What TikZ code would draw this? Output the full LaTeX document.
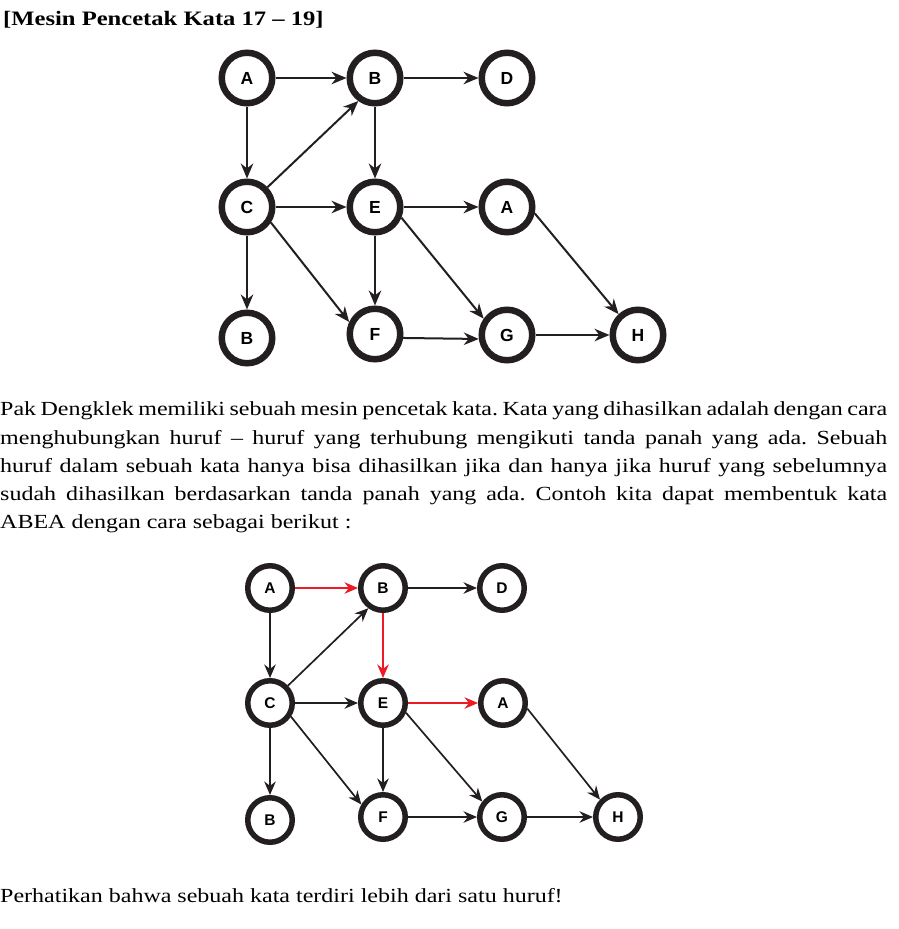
\documentclass[tikz,border=0pt]{standalone}
\usepackage{fontspec}
\setmainfont{Liberation Serif}[FakeStretch=1.2]
\newfontfamily\letterfont{Liberation Sans}
\usetikzlibrary{arrows.meta}
\definecolor{ink}{HTML}{231F20}
\definecolor{pathred}{HTML}{ED1C24}
\tikzset{
  every letter/.style={
    circle,
    draw=ink,
    line width=6.5pt,
    minimum size=50.5pt,
    inner sep=0pt,
    font=\letterfont\bfseries\fontsize{17.5}{17.5}\selectfont
  },
  small letter/.style={
    every letter,
    line width=5.5pt,
    minimum size=44.5pt,
    font=\letterfont\bfseries\fontsize{15.5}{15.5}\selectfont
  },
}
\tikzstyle{arrow} = [draw=ink, line width=2pt, -{Stealth[length=15pt,width=12.5pt]}]
\tikzstyle{small arrow} = [draw=ink, line width=1.7pt, -{Stealth[length=13.5pt,width=11.5pt]}]
\tikzstyle{red arrow} = [small arrow, draw=pathred, fill=pathred]
\tikzstyle{textline} = [anchor=base west, inner sep=0pt, font=\frenchspacing\fontsize{20}{28}\selectfont]

\begin{document}
\begin{tikzpicture}[x=1pt, y=-1pt]
        \useasboundingbox (0,0) rectangle (899,929);

        % title
        \node [textline, font=\bfseries\fontsize{20.5}{20.5}\selectfont] (title) at (3,25) {[Mesin Pencetak Kata 17 -- 19]};

        % letters, first machine
        \node [every letter] (a1) at (247,78) {A};
        \node [every letter] (b1) at (375,78) {B};
        \node [every letter] (d1) at (507,78) {D};
        \node [every letter] (c1) at (247,207) {C};
        \node [every letter] (e1) at (375,207) {E};
        \node [every letter] (aa1) at (507,207) {A};
        \node [every letter] (bb1) at (247,338) {B};
        \node [every letter] (f1) at (375,334) {F};
        \node [every letter] (g1) at (507,335) {G};
        \node [every letter] (h1) at (638,335) {H};

        % arrows, first machine
        \draw [arrow] (a1) -- (b1);
        \draw [arrow] (a1) -- (c1);
        \draw [arrow] (b1) -- (d1);
        \draw [arrow] (b1) -- (e1);
        \draw [arrow] (c1.44) -- (b1.234);
        \draw [arrow] (c1) -- (e1);
        \draw [arrow] (c1) -- (bb1);
        \draw [arrow] (c1.-33) -- (f1.155);
        \draw [arrow] (e1) -- (aa1);
        \draw [arrow] (e1) -- (f1);
        \draw [arrow] (e1.-22) -- (g1.145);
        \draw [arrow] (aa1.-13) -- (h1.133);
        \draw [arrow] (f1.-8) -- (g1.188);
        \draw [arrow] (g1) -- (h1);

        % story
        \node [textline] (line1) at (0,415) {\makebox[887pt][s]{Pak Dengklek memiliki sebuah mesin pencetak kata. Kata yang dihasilkan adalah dengan cara}};
        \node [textline] (line2) at (0,444) {\makebox[887pt][s]{menghubungkan huruf -- huruf yang terhubung mengikuti tanda panah yang ada. Sebuah}};
        \node [textline] (line3) at (0,472) {\makebox[887pt][s]{huruf dalam sebuah kata hanya bisa dihasilkan jika dan hanya jika huruf yang sebelumnya}};
        \node [textline] (line4) at (0,500) {\makebox[887pt][s]{sudah dihasilkan berdasarkan tanda panah yang ada. Contoh kita dapat membentuk kata}};
        \node [textline] (line5) at (0,528) {ABEA dengan cara sebagai berikut :};

        % letters, second machine
        \node [small letter] (a2) at (270,588) {A};
        \node [small letter] (b2) at (383,588) {B};
        \node [small letter] (d2) at (502,588) {D};
        \node [small letter] (c2) at (270,703) {C};
        \node [small letter] (e2) at (383,703) {E};
        \node [small letter] (aa2) at (503,703) {A};
        \node [small letter] (bb2) at (270,820) {B};
        \node [small letter] (f2) at (383,817) {F};
        \node [small letter] (g2) at (502,817) {G};
        \node [small letter] (h2) at (618,817) {H};

        % arrows, second machine
        \draw [red arrow] (a2) -- (b2);
        \draw [small arrow] (a2) -- (c2);
        \draw [small arrow] (b2) -- (d2);
        \draw [red arrow] (b2) -- (e2);
        \draw [small arrow] (c2.44) -- (b2.234);
        \draw [small arrow] (c2) -- (e2);
        \draw [small arrow] (c2) -- (bb2);
        \draw [small arrow] (c2.-33) -- (f2.150);
        \draw [red arrow] (e2) -- (aa2);
        \draw [small arrow] (e2) -- (f2);
        \draw [small arrow] (e2.-23) -- (g2.142);
        \draw [small arrow] (aa2.-13) -- (h2.136);
        \draw [small arrow] (f2) -- (g2);
        \draw [small arrow] (g2) -- (h2);

        % closing remark
        \node [textline] (remark) at (0,902) {Perhatikan bahwa sebuah kata terdiri lebih dari satu huruf!};
\end{tikzpicture}
\end{document}
